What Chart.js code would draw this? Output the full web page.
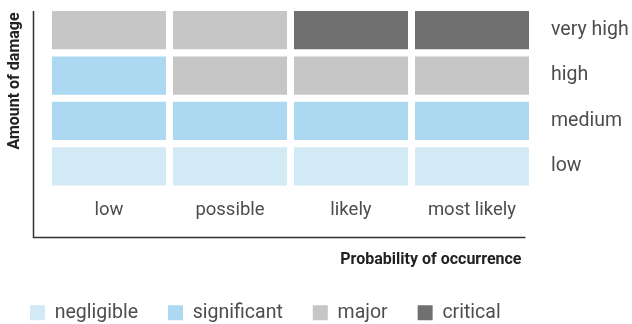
<!DOCTYPE html>
<html>
<head>
<meta charset="utf-8">
<script src="https://cdn.jsdelivr.net/npm/chart.js@4"></script>
<style>
  html, body { margin: 0; padding: 0; background: #fff; }
  #wrap { width: 632px; height: 324px; }
</style>
</head>
<body>
<div id="wrap"><canvas id="riskChart"></canvas></div>
<script>
const probability = ['low', 'possible', 'likely', 'most likely'];
const damage = ['low', 'medium', 'high', 'very high'];
const severity = ['negligible', 'significant', 'major', 'critical'];
// severity index of each cell, one array per damage row, left to right
const riskLow = [0, 0, 0, 0];
const riskMedium = [1, 1, 1, 1];
const riskHigh = [1, 2, 2, 2];
const riskVeryHigh = [2, 2, 3, 3];
const riskRows = [riskLow, riskMedium, riskHigh, riskVeryHigh];

const severityColors = ['#d2e9f6', '#acd8f1', '#c6c6c6', '#707070'];
const textColor = '#4d4d4d';
const titleColor = '#222';
const family = 'Roboto, "DejaVu Sans", sans-serif';

// L shaped frame round the matrix, axis titles nudged a bit inwards
const frame = {
  id: 'frame',
  afterLayout(chart) {
    const { chartArea, scales } = chart;
    scales.x2.right = chartArea.right - 11;
    scales.yTitle.top = chartArea.top + 5;
  },
  afterDraw(chart) {
    const { ctx, chartArea } = chart;
    const x0 = chartArea.left - 15;
    const yb = chart.scales.x2.top;
    ctx.save();
    ctx.strokeStyle = '#333';
    ctx.lineWidth = 1.5;
    ctx.beginPath();
    ctx.moveTo(x0, chartArea.top + 3.5);
    ctx.lineTo(x0, yb);
    ctx.lineTo(chartArea.right - 7, yb);
    ctx.stroke();
    ctx.restore();
  }
};

const ctx = document.getElementById('riskChart').getContext('2d');
const riskChart = new Chart(ctx, {
  type: 'bar',
  data: {
    labels: probability,
    datasets: damage.map((d, r) => ({
      label: d,
      data: probability.map(() => 1),
      backgroundColor: riskRows[r].map(s => severityColors[s]),
      borderColor: '#fff',
      borderWidth: { top: 3.6, bottom: 3.6, left: 3.5, right: 3.5 },
      borderSkipped: false,
      inflateAmount: 0,
      barPercentage: 1,
      categoryPercentage: 1,
      xAxisID: 'x',
      yAxisID: 'y'
    }))
  },
  options: {
    responsive: true,
    maintainAspectRatio: false,
    animation: false,
    layout: { padding: { top: 7.4, bottom: -8.5 } },
    scales: {
      x: {
        stacked: true,
        position: 'bottom',
        grid: { display: false, drawTicks: false },
        border: { display: false },
        ticks: { color: textColor, font: { family, size: 18.5 }, padding: 10 },
        afterFit(s) { s.height = 48.4; }
      },
      x2: {
        type: 'category',
        position: 'bottom',
        grid: { display: false, drawTicks: false },
        border: { display: false },
        ticks: { display: false },
        title: {
          display: true, text: 'Probability of occurrence', align: 'end',
          color: titleColor, font: { family, size: 16, weight: 'bold' },
          padding: { top: 0, bottom: 3.5 }
        },
        afterFit(s) { s.height = 35.5; }
      },
      y: {
        stacked: true,
        position: 'right',
        min: 0,
        max: 4,
        grid: { display: false, drawTicks: false },
        border: { display: false },
        afterBuildTicks(s) { s.ticks = damage.map((_, i) => ({ value: i + 0.5 })); },
        ticks: {
          color: textColor, font: { family, size: 19.5 }, padding: 18.5,
          callback: (v, i) => damage[i]
        },
        afterFit(s) { s.width = 99.5; s.paddingTop = 0; s.paddingBottom = 0; }
      },
      yTitle: {
        type: 'linear',
        position: 'left',
        grid: { display: false, drawTicks: false },
        border: { display: false },
        ticks: { display: false },
        title: {
          display: true, text: 'Amount of damage', align: 'end',
          color: titleColor, font: { family, size: 16, weight: 'bold' },
          padding: { top: 5, bottom: 0 }
        },
        afterFit(s) { s.width = 48.5; s.paddingTop = 0; s.paddingBottom = 0; }
      }
    },
    plugins: {
      tooltip: { enabled: false },
      legend: {
        position: 'bottom',
        align: 'start',
        onClick: () => {},
        labels: {
          color: textColor,
          font: { family, size: 19.5 },
          boxWidth: 15,
          boxHeight: 15,
          padding: 30,
          generateLabels: () => severity.map((name, i) => ({
            text: name,
            fillStyle: severityColors[i],
            strokeStyle: severityColors[i],
            lineWidth: 0,
            hidden: false,
            fontColor: textColor
          }))
        }
      }
    }
  },
  plugins: [frame]
});
</script>
</body>
</html>
